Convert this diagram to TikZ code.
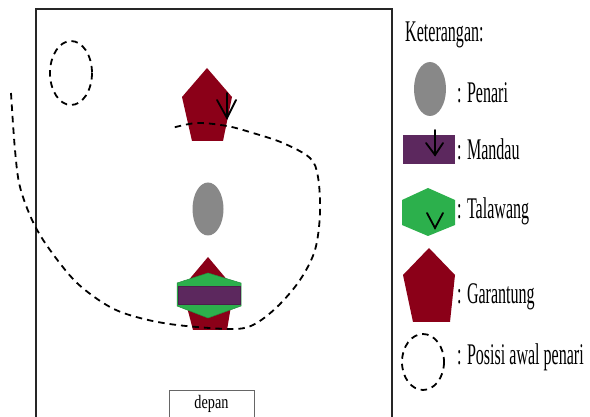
\documentclass[tikz,border=0pt]{standalone}
\usepackage{fontspec}
\newfontfamily\legfont[FakeStretch=0.535]{Liberation Serif}
\newfontfamily\depfont[FakeStretch=0.75]{Liberation Serif}
\definecolor{garred}{RGB}{139,0,24}
\definecolor{pengrey}{RGB}{136,136,136}
\definecolor{manpurple}{RGB}{92,40,94}
\definecolor{talgreen}{RGB}{44,176,76}
\tikzset{
  legtext/.style={anchor=base west,inner sep=0pt,font=\legfont\fontsize{30}{32}\selectfont},
  dashpath/.style={line width=1.8pt,dash pattern=on 6.5pt off 5pt},
  arrowline/.style={line width=1.8pt,black,line cap=round,line join=miter},
  border/.style={line width=1.5pt,black!85}
}
\begin{document}
\begin{tikzpicture}[x=1pt,y=-1pt]
\useasboundingbox (0,0) rectangle (590,417);
% stage border
\draw[border] (36,417) -- (36,9) -- (392,9) -- (392,417);
% initial position
\draw[dashpath] (71,73) ellipse [x radius=21,y radius=32];
% top garantung
\fill[garred] (207,68) -- (232,97) -- (223,141) -- (192,141) -- (182,97) -- cycle;
% arrow
\draw[arrowline] (227,93) -- (227,118);
\draw[arrowline] (217,100) -- (227,118) -- (236,100);
% penari
\fill[pengrey] (208,209) ellipse [x radius=15.5,y radius=26.5];
% bottom group
\fill[garred] (208,257) -- (234,288) -- (227,330) -- (193,330) -- (182,288) -- cycle;
\filldraw[fill=talgreen,draw=talgreen!80!black,line width=0.5pt] (208,273) -- (241,283) -- (241,306) -- (208,318) -- (177,306) -- (177,283) -- cycle;
\filldraw[fill=manpurple,draw=manpurple!80!black,line width=0.5pt] (178,286) rectangle (240,304);
% dashed movement path
\draw[dashpath] plot[smooth,tension=0.55] coordinates {(11,93) (15,150) (20,187) (33,222) (50,250) (77,283) (110,307) (140,318) (177,325) (230,329) (253,325) (277,307) (300,280) (315,250) (320,213) (318,177) (310,158) (283,143) (253,133) (227,126) (197,123) (172,128)};
% depan box
\draw[black!60,line width=0.8pt] (169,417) -- (169,390) -- (254,390) -- (254,417);
\node[inner sep=0pt,font=\depfont\fontsize{19}{20}\selectfont] (depan) at (211.5,404) {depan};
% legend
\node[legtext] (ket) at (405,42) {Keterangan:};
\fill[pengrey] (430,89) ellipse [x radius=16,y radius=27];
\node[legtext] (lpenari) at (457,103) {: Penari};
\fill[manpurple] (403,135) rectangle (455,164);
\draw[arrowline] (435,130) -- (435,155);
\draw[arrowline] (426,143) -- (435,155) -- (443,143);
\node[legtext] (lmandau) at (457,160) {: Mandau};
\fill[talgreen] (428,188) -- (455,200) -- (455,225) -- (428,236) -- (402,225) -- (402,200) -- cycle;
\draw[arrowline] (427,213) -- (435,228) -- (443,213);
\node[legtext] (ltalawang) at (457,219) {: Talawang};
\fill[garred] (429,248) -- (455,275) -- (450,322) -- (413,322) -- (403,275) -- cycle;
\node[legtext] (lgarantung) at (457,304) {: Garantung};
\draw[dashpath] (423,362) ellipse [x radius=21,y radius=28];
\node[legtext] (lposisi) at (457,364) {: Posisi awal penari};
\end{tikzpicture}
\end{document}
